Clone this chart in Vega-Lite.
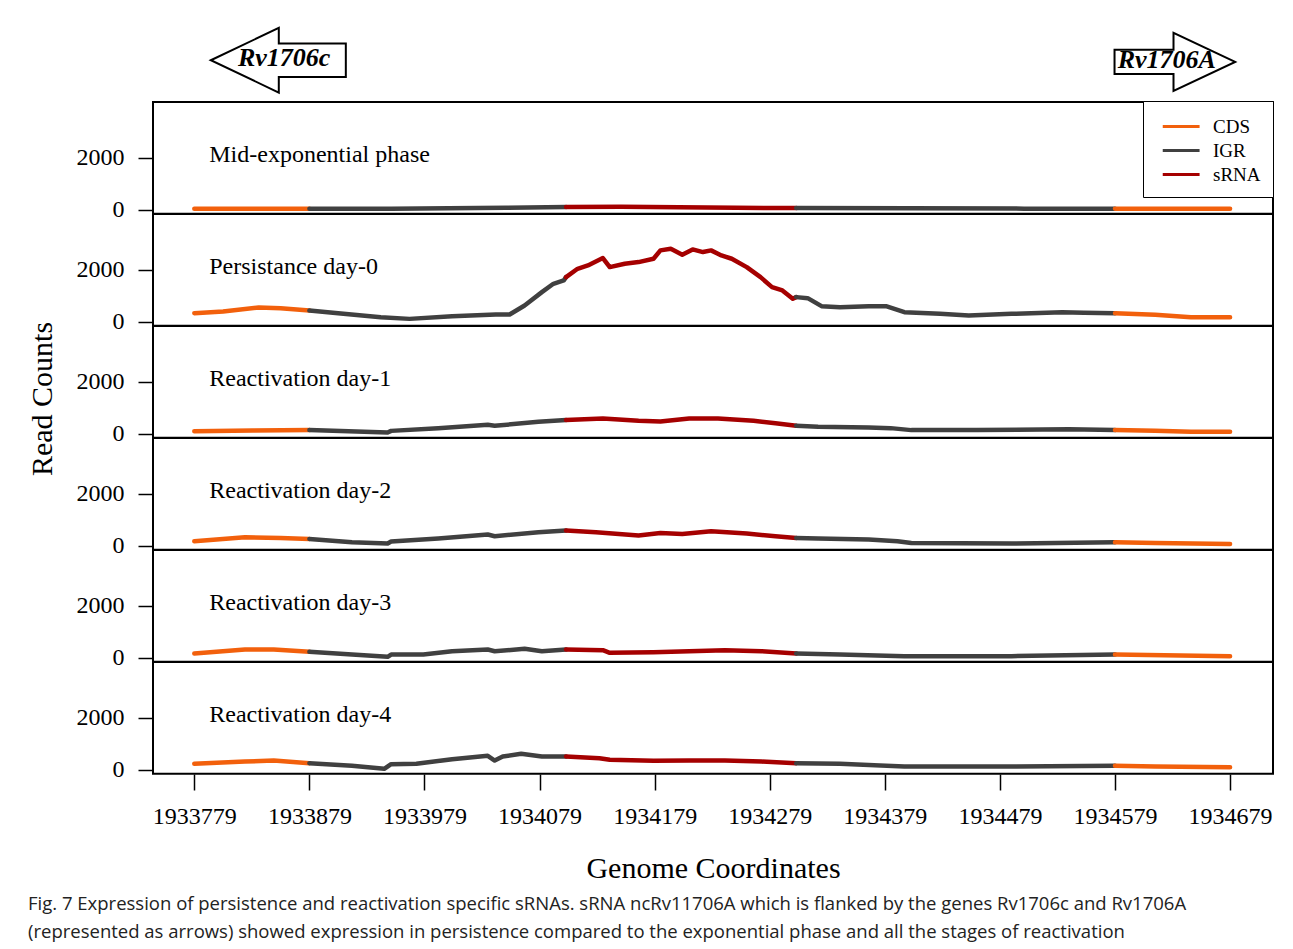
{
  "$schema": "https://vega.github.io/schema/vega-lite/v6.json",
  "background": "white",
  "padding": {"left": 27, "top": 22, "right": 15, "bottom": 10},
  "data": {"values": [
    {"p":"Mid-exponential phase","gene":"Rv1706c","gx":1933852,"gy":5776,"tx":1933857,"ty":5853},
    {"p":"Mid-exponential phase","gene":"Rv1706A","gx":1934631,"gy":5710,"tx":1934624,"ty":5776},

    {"p":"Mid-exponential phase","x":1933779,"y":30,"s":"CDS","g":1},
    {"p":"Mid-exponential phase","x":1933830,"y":30,"s":"CDS","g":1},
    {"p":"Mid-exponential phase","x":1933879,"y":30,"s":"CDS","g":1},
    {"p":"Mid-exponential phase","x":1933879,"y":30,"s":"IGR","g":2},
    {"p":"Mid-exponential phase","x":1933950,"y":35,"s":"IGR","g":2},
    {"p":"Mid-exponential phase","x":1934000,"y":50,"s":"IGR","g":2},
    {"p":"Mid-exponential phase","x":1934050,"y":70,"s":"IGR","g":2},
    {"p":"Mid-exponential phase","x":1934102,"y":100,"s":"IGR","g":2},
    {"p":"Mid-exponential phase","x":1934102,"y":100,"s":"sRNA","g":3},
    {"p":"Mid-exponential phase","x":1934150,"y":110,"s":"sRNA","g":3},
    {"p":"Mid-exponential phase","x":1934200,"y":90,"s":"sRNA","g":3},
    {"p":"Mid-exponential phase","x":1934250,"y":70,"s":"sRNA","g":3},
    {"p":"Mid-exponential phase","x":1934302,"y":55,"s":"sRNA","g":3},
    {"p":"Mid-exponential phase","x":1934302,"y":55,"s":"IGR","g":4},
    {"p":"Mid-exponential phase","x":1934400,"y":45,"s":"IGR","g":4},
    {"p":"Mid-exponential phase","x":1934500,"y":35,"s":"IGR","g":4},
    {"p":"Mid-exponential phase","x":1934579,"y":35,"s":"IGR","g":4},
    {"p":"Mid-exponential phase","x":1934579,"y":35,"s":"CDS","g":5},
    {"p":"Mid-exponential phase","x":1934630,"y":30,"s":"CDS","g":5},
    {"p":"Mid-exponential phase","x":1934679,"y":30,"s":"CDS","g":5},

    {"p":"Persistance day-0","x":1933779,"y":322,"s":"CDS","g":1},
    {"p":"Persistance day-0","x":1933804,"y":388,"s":"CDS","g":1},
    {"p":"Persistance day-0","x":1933835,"y":543,"s":"CDS","g":1},
    {"p":"Persistance day-0","x":1933854,"y":517,"s":"CDS","g":1},
    {"p":"Persistance day-0","x":1933879,"y":426,"s":"CDS","g":1},
    {"p":"Persistance day-0","x":1933879,"y":426,"s":"IGR","g":2},
    {"p":"Persistance day-0","x":1933904,"y":322,"s":"IGR","g":2},
    {"p":"Persistance day-0","x":1933941,"y":168,"s":"IGR","g":2},
    {"p":"Persistance day-0","x":1933966,"y":103,"s":"IGR","g":2},
    {"p":"Persistance day-0","x":1934003,"y":207,"s":"IGR","g":2},
    {"p":"Persistance day-0","x":1934041,"y":271,"s":"IGR","g":2},
    {"p":"Persistance day-0","x":1934053,"y":271,"s":"IGR","g":2},
    {"p":"Persistance day-0","x":1934066,"y":620,"s":"IGR","g":2},
    {"p":"Persistance day-0","x":1934081,"y":1137,"s":"IGR","g":2},
    {"p":"Persistance day-0","x":1934091,"y":1460,"s":"IGR","g":2},
    {"p":"Persistance day-0","x":1934100,"y":1589,"s":"IGR","g":2},
    {"p":"Persistance day-0","x":1934102,"y":1718,"s":"IGR","g":2},
    {"p":"Persistance day-0","x":1934102,"y":1718,"s":"sRNA","g":3},
    {"p":"Persistance day-0","x":1934112,"y":2041,"s":"sRNA","g":3},
    {"p":"Persistance day-0","x":1934121,"y":2171,"s":"sRNA","g":3},
    {"p":"Persistance day-0","x":1934134,"y":2455,"s":"sRNA","g":3},
    {"p":"Persistance day-0","x":1934140,"y":2106,"s":"sRNA","g":3},
    {"p":"Persistance day-0","x":1934153,"y":2235,"s":"sRNA","g":3},
    {"p":"Persistance day-0","x":1934165,"y":2300,"s":"sRNA","g":3},
    {"p":"Persistance day-0","x":1934178,"y":2429,"s":"sRNA","g":3},
    {"p":"Persistance day-0","x":1934184,"y":2752,"s":"sRNA","g":3},
    {"p":"Persistance day-0","x":1934193,"y":2816,"s":"sRNA","g":3},
    {"p":"Persistance day-0","x":1934203,"y":2584,"s":"sRNA","g":3},
    {"p":"Persistance day-0","x":1934212,"y":2790,"s":"sRNA","g":3},
    {"p":"Persistance day-0","x":1934221,"y":2687,"s":"sRNA","g":3},
    {"p":"Persistance day-0","x":1934228,"y":2752,"s":"sRNA","g":3},
    {"p":"Persistance day-0","x":1934237,"y":2558,"s":"sRNA","g":3},
    {"p":"Persistance day-0","x":1934246,"y":2429,"s":"sRNA","g":3},
    {"p":"Persistance day-0","x":1934259,"y":2106,"s":"sRNA","g":3},
    {"p":"Persistance day-0","x":1934271,"y":1718,"s":"sRNA","g":3},
    {"p":"Persistance day-0","x":1934281,"y":1331,"s":"sRNA","g":3},
    {"p":"Persistance day-0","x":1934290,"y":1202,"s":"sRNA","g":3},
    {"p":"Persistance day-0","x":1934299,"y":879,"s":"sRNA","g":3},
    {"p":"Persistance day-0","x":1934302,"y":944,"s":"sRNA","g":3},
    {"p":"Persistance day-0","x":1934302,"y":944,"s":"IGR","g":4},
    {"p":"Persistance day-0","x":1934312,"y":905,"s":"IGR","g":4},
    {"p":"Persistance day-0","x":1934324,"y":594,"s":"IGR","g":4},
    {"p":"Persistance day-0","x":1934340,"y":556,"s":"IGR","g":4},
    {"p":"Persistance day-0","x":1934365,"y":594,"s":"IGR","g":4},
    {"p":"Persistance day-0","x":1934380,"y":594,"s":"IGR","g":4},
    {"p":"Persistance day-0","x":1934396,"y":362,"s":"IGR","g":4},
    {"p":"Persistance day-0","x":1934427,"y":297,"s":"IGR","g":4},
    {"p":"Persistance day-0","x":1934452,"y":233,"s":"IGR","g":4},
    {"p":"Persistance day-0","x":1934489,"y":297,"s":"IGR","g":4},
    {"p":"Persistance day-0","x":1934533,"y":362,"s":"IGR","g":4},
    {"p":"Persistance day-0","x":1934552,"y":336,"s":"IGR","g":4},
    {"p":"Persistance day-0","x":1934579,"y":322,"s":"IGR","g":4},
    {"p":"Persistance day-0","x":1934579,"y":322,"s":"CDS","g":5},
    {"p":"Persistance day-0","x":1934614,"y":258,"s":"CDS","g":5},
    {"p":"Persistance day-0","x":1934645,"y":168,"s":"CDS","g":5},
    {"p":"Persistance day-0","x":1934679,"y":168,"s":"CDS","g":5},

    {"p":"Reactivation day-1","x":1933779,"y":93,"s":"CDS","g":1},
    {"p":"Reactivation day-1","x":1933830,"y":115,"s":"CDS","g":1},
    {"p":"Reactivation day-1","x":1933879,"y":132,"s":"CDS","g":1},
    {"p":"Reactivation day-1","x":1933879,"y":132,"s":"IGR","g":2},
    {"p":"Reactivation day-1","x":1933947,"y":39,"s":"IGR","g":2},
    {"p":"Reactivation day-1","x":1933950,"y":103,"s":"IGR","g":2},
    {"p":"Reactivation day-1","x":1933991,"y":209,"s":"IGR","g":2},
    {"p":"Reactivation day-1","x":1934034,"y":337,"s":"IGR","g":2},
    {"p":"Reactivation day-1","x":1934040,"y":300,"s":"IGR","g":2},
    {"p":"Reactivation day-1","x":1934078,"y":453,"s":"IGR","g":2},
    {"p":"Reactivation day-1","x":1934102,"y":519,"s":"IGR","g":2},
    {"p":"Reactivation day-1","x":1934102,"y":519,"s":"sRNA","g":3},
    {"p":"Reactivation day-1","x":1934134,"y":583,"s":"sRNA","g":3},
    {"p":"Reactivation day-1","x":1934165,"y":493,"s":"sRNA","g":3},
    {"p":"Reactivation day-1","x":1934184,"y":467,"s":"sRNA","g":3},
    {"p":"Reactivation day-1","x":1934209,"y":583,"s":"sRNA","g":3},
    {"p":"Reactivation day-1","x":1934234,"y":583,"s":"sRNA","g":3},
    {"p":"Reactivation day-1","x":1934265,"y":493,"s":"sRNA","g":3},
    {"p":"Reactivation day-1","x":1934284,"y":402,"s":"sRNA","g":3},
    {"p":"Reactivation day-1","x":1934302,"y":300,"s":"sRNA","g":3},
    {"p":"Reactivation day-1","x":1934302,"y":300,"s":"IGR","g":4},
    {"p":"Reactivation day-1","x":1934321,"y":260,"s":"IGR","g":4},
    {"p":"Reactivation day-1","x":1934365,"y":235,"s":"IGR","g":4},
    {"p":"Reactivation day-1","x":1934384,"y":209,"s":"IGR","g":4},
    {"p":"Reactivation day-1","x":1934402,"y":132,"s":"IGR","g":4},
    {"p":"Reactivation day-1","x":1934459,"y":132,"s":"IGR","g":4},
    {"p":"Reactivation day-1","x":1934539,"y":170,"s":"IGR","g":4},
    {"p":"Reactivation day-1","x":1934579,"y":132,"s":"IGR","g":4},
    {"p":"Reactivation day-1","x":1934579,"y":132,"s":"CDS","g":5},
    {"p":"Reactivation day-1","x":1934614,"y":106,"s":"CDS","g":5},
    {"p":"Reactivation day-1","x":1934645,"y":67,"s":"CDS","g":5},
    {"p":"Reactivation day-1","x":1934679,"y":67,"s":"CDS","g":5},

    {"p":"Reactivation day-2","x":1933779,"y":167,"s":"CDS","g":1},
    {"p":"Reactivation day-2","x":1933823,"y":322,"s":"CDS","g":1},
    {"p":"Reactivation day-2","x":1933854,"y":296,"s":"CDS","g":1},
    {"p":"Reactivation day-2","x":1933879,"y":257,"s":"CDS","g":1},
    {"p":"Reactivation day-2","x":1933879,"y":257,"s":"IGR","g":2},
    {"p":"Reactivation day-2","x":1933916,"y":128,"s":"IGR","g":2},
    {"p":"Reactivation day-2","x":1933947,"y":77,"s":"IGR","g":2},
    {"p":"Reactivation day-2","x":1933950,"y":154,"s":"IGR","g":2},
    {"p":"Reactivation day-2","x":1933991,"y":270,"s":"IGR","g":2},
    {"p":"Reactivation day-2","x":1934034,"y":425,"s":"IGR","g":2},
    {"p":"Reactivation day-2","x":1934040,"y":360,"s":"IGR","g":2},
    {"p":"Reactivation day-2","x":1934078,"y":515,"s":"IGR","g":2},
    {"p":"Reactivation day-2","x":1934102,"y":580,"s":"IGR","g":2},
    {"p":"Reactivation day-2","x":1934102,"y":580,"s":"sRNA","g":3},
    {"p":"Reactivation day-2","x":1934128,"y":515,"s":"sRNA","g":3},
    {"p":"Reactivation day-2","x":1934165,"y":386,"s":"sRNA","g":3},
    {"p":"Reactivation day-2","x":1934184,"y":489,"s":"sRNA","g":3},
    {"p":"Reactivation day-2","x":1934203,"y":450,"s":"sRNA","g":3},
    {"p":"Reactivation day-2","x":1934228,"y":554,"s":"sRNA","g":3},
    {"p":"Reactivation day-2","x":1934259,"y":463,"s":"sRNA","g":3},
    {"p":"Reactivation day-2","x":1934284,"y":360,"s":"sRNA","g":3},
    {"p":"Reactivation day-2","x":1934302,"y":296,"s":"sRNA","g":3},
    {"p":"Reactivation day-2","x":1934302,"y":296,"s":"IGR","g":4},
    {"p":"Reactivation day-2","x":1934321,"y":270,"s":"IGR","g":4},
    {"p":"Reactivation day-2","x":1934365,"y":231,"s":"IGR","g":4},
    {"p":"Reactivation day-2","x":1934390,"y":167,"s":"IGR","g":4},
    {"p":"Reactivation day-2","x":1934402,"y":102,"s":"IGR","g":4},
    {"p":"Reactivation day-2","x":1934489,"y":77,"s":"IGR","g":4},
    {"p":"Reactivation day-2","x":1934579,"y":128,"s":"IGR","g":4},
    {"p":"Reactivation day-2","x":1934579,"y":128,"s":"CDS","g":5},
    {"p":"Reactivation day-2","x":1934614,"y":102,"s":"CDS","g":5},
    {"p":"Reactivation day-2","x":1934679,"y":64,"s":"CDS","g":5},

    {"p":"Reactivation day-3","x":1933779,"y":155,"s":"CDS","g":1},
    {"p":"Reactivation day-3","x":1933823,"y":310,"s":"CDS","g":1},
    {"p":"Reactivation day-3","x":1933848,"y":310,"s":"CDS","g":1},
    {"p":"Reactivation day-3","x":1933879,"y":220,"s":"CDS","g":1},
    {"p":"Reactivation day-3","x":1933879,"y":220,"s":"IGR","g":2},
    {"p":"Reactivation day-3","x":1933916,"y":116,"s":"IGR","g":2},
    {"p":"Reactivation day-3","x":1933947,"y":26,"s":"IGR","g":2},
    {"p":"Reactivation day-3","x":1933950,"y":116,"s":"IGR","g":2},
    {"p":"Reactivation day-3","x":1933978,"y":116,"s":"IGR","g":2},
    {"p":"Reactivation day-3","x":1934003,"y":245,"s":"IGR","g":2},
    {"p":"Reactivation day-3","x":1934034,"y":310,"s":"IGR","g":2},
    {"p":"Reactivation day-3","x":1934040,"y":245,"s":"IGR","g":2},
    {"p":"Reactivation day-3","x":1934066,"y":336,"s":"IGR","g":2},
    {"p":"Reactivation day-3","x":1934081,"y":245,"s":"IGR","g":2},
    {"p":"Reactivation day-3","x":1934102,"y":310,"s":"IGR","g":2},
    {"p":"Reactivation day-3","x":1934102,"y":310,"s":"sRNA","g":3},
    {"p":"Reactivation day-3","x":1934134,"y":284,"s":"sRNA","g":3},
    {"p":"Reactivation day-3","x":1934140,"y":181,"s":"sRNA","g":3},
    {"p":"Reactivation day-3","x":1934178,"y":207,"s":"sRNA","g":3},
    {"p":"Reactivation day-3","x":1934209,"y":245,"s":"sRNA","g":3},
    {"p":"Reactivation day-3","x":1934240,"y":284,"s":"sRNA","g":3},
    {"p":"Reactivation day-3","x":1934272,"y":245,"s":"sRNA","g":3},
    {"p":"Reactivation day-3","x":1934302,"y":155,"s":"sRNA","g":3},
    {"p":"Reactivation day-3","x":1934302,"y":155,"s":"IGR","g":4},
    {"p":"Reactivation day-3","x":1934340,"y":116,"s":"IGR","g":4},
    {"p":"Reactivation day-3","x":1934396,"y":52,"s":"IGR","g":4},
    {"p":"Reactivation day-3","x":1934489,"y":52,"s":"IGR","g":4},
    {"p":"Reactivation day-3","x":1934579,"y":116,"s":"IGR","g":4},
    {"p":"Reactivation day-3","x":1934579,"y":116,"s":"CDS","g":5},
    {"p":"Reactivation day-3","x":1934679,"y":52,"s":"CDS","g":5},

    {"p":"Reactivation day-4","x":1933779,"y":221,"s":"CDS","g":1},
    {"p":"Reactivation day-4","x":1933823,"y":310,"s":"CDS","g":1},
    {"p":"Reactivation day-4","x":1933848,"y":349,"s":"CDS","g":1},
    {"p":"Reactivation day-4","x":1933879,"y":245,"s":"CDS","g":1},
    {"p":"Reactivation day-4","x":1933879,"y":245,"s":"IGR","g":2},
    {"p":"Reactivation day-4","x":1933916,"y":142,"s":"IGR","g":2},
    {"p":"Reactivation day-4","x":1933944,"y":26,"s":"IGR","g":2},
    {"p":"Reactivation day-4","x":1933950,"y":207,"s":"IGR","g":2},
    {"p":"Reactivation day-4","x":1933972,"y":220,"s":"IGR","g":2},
    {"p":"Reactivation day-4","x":1934003,"y":401,"s":"IGR","g":2},
    {"p":"Reactivation day-4","x":1934034,"y":530,"s":"IGR","g":2},
    {"p":"Reactivation day-4","x":1934040,"y":349,"s":"IGR","g":2},
    {"p":"Reactivation day-4","x":1934047,"y":504,"s":"IGR","g":2},
    {"p":"Reactivation day-4","x":1934063,"y":608,"s":"IGR","g":2},
    {"p":"Reactivation day-4","x":1934081,"y":504,"s":"IGR","g":2},
    {"p":"Reactivation day-4","x":1934102,"y":504,"s":"IGR","g":2},
    {"p":"Reactivation day-4","x":1934102,"y":504,"s":"sRNA","g":3},
    {"p":"Reactivation day-4","x":1934131,"y":440,"s":"sRNA","g":3},
    {"p":"Reactivation day-4","x":1934140,"y":375,"s":"sRNA","g":3},
    {"p":"Reactivation day-4","x":1934178,"y":337,"s":"sRNA","g":3},
    {"p":"Reactivation day-4","x":1934209,"y":349,"s":"sRNA","g":3},
    {"p":"Reactivation day-4","x":1934240,"y":349,"s":"sRNA","g":3},
    {"p":"Reactivation day-4","x":1934272,"y":310,"s":"sRNA","g":3},
    {"p":"Reactivation day-4","x":1934302,"y":245,"s":"sRNA","g":3},
    {"p":"Reactivation day-4","x":1934302,"y":245,"s":"IGR","g":4},
    {"p":"Reactivation day-4","x":1934340,"y":220,"s":"IGR","g":4},
    {"p":"Reactivation day-4","x":1934396,"y":116,"s":"IGR","g":4},
    {"p":"Reactivation day-4","x":1934489,"y":116,"s":"IGR","g":4},
    {"p":"Reactivation day-4","x":1934579,"y":142,"s":"IGR","g":4},
    {"p":"Reactivation day-4","x":1934579,"y":142,"s":"CDS","g":5},
    {"p":"Reactivation day-4","x":1934614,"y":116,"s":"CDS","g":5},
    {"p":"Reactivation day-4","x":1934679,"y":91,"s":"CDS","g":5}
  ]},
  "facet": {
    "row": {
      "field": "p", "type": "nominal",
      "sort": ["Mid-exponential phase","Persistance day-0","Reactivation day-1","Reactivation day-2","Reactivation day-3","Reactivation day-4"],
      "header": {"labels": false, "title": "Read Counts", "titleFont": "Liberation Serif", "titleFontSize": 30, "titleFontWeight": "normal", "titleColor": "black", "titlePadding": 8}
    }
  },
  "spacing": {"row": 0},
  "bounds": "flush",
  "spec": {
    "width": 1120,
    "height": 111.67,
    "layer": [
      {
        "transform": [{"filter": "datum.s != null"}],
        "mark": {"type": "line", "strokeWidth": 4.5, "strokeJoin": "round", "strokeCap": "round"},
        "encoding": {
          "x": {"field": "x", "type": "quantitative",
                "scale": {"domain": [1933743.1, 1934716.3], "nice": false, "zero": false},
                "axis": {"values": [1933779,1933879,1933979,1934079,1934179,1934279,1934379,1934479,1934579,1934679],
                         "format": "d", "title": "Genome Coordinates", "titleFont": "Liberation Serif", "titleFontSize": 30,
                         "titleFontWeight": "normal", "titleColor": "black", "titlePadding": 25,
                         "labelFont": "Liberation Serif", "labelFontSize": 24, "labelColor": "black", "labelPadding": 14,
                         "tickSize": 16, "tickColor": "black", "tickWidth": 1.5, "domain": false, "grid": false,
                         "labelOverlap": false, "labelFlush": false, "labelBound": false}},
          "y": {"field": "y", "type": "quantitative",
                "scale": {"domain": [-160, 4160], "nice": false, "zero": false},
                "axis": {"values": [0, 2000], "format": "d", "title": null, "labelFont": "Liberation Serif", "labelFontSize": 24,
                         "labelColor": "black", "labelPadding": 14, "tickSize": 15, "tickColor": "black", "tickWidth": 1.5,
                         "domain": false, "grid": false, "labelBaseline": "middle"}},
          "color": {"field": "s", "type": "nominal", "title": null,
                    "scale": {"domain": ["CDS", "IGR", "sRNA"], "range": ["#f2600c", "#404040", "#a50000"]},
                    "legend": {"orient": "none", "legendX": 990, "legendY": -1, "symbolType": "M-0.5,0L2.7,0", "symbolSize": 530,
                               "symbolStrokeWidth": 3, "labelFont": "Liberation Serif", "labelFontSize": 19, "labelColor": "black",
                               "strokeColor": "black", "fillColor": "white", "padding": 12, "rowPadding": 0, "labelOffset": 31}},
          "detail": {"field": "g", "type": "nominal"}
        }
      },
      {
        "transform": [{"filter": "datum.x == 1933779 && datum.s == 'CDS'"}],
        "mark": {"type": "text", "align": "left", "baseline": "middle", "font": "Liberation Serif", "fontSize": 24, "color": "black"},
        "encoding": {
          "x": {"datum": 1933792},
          "y": {"datum": 2100},
          "text": {"field": "p"}
        }
      },
      {
        "transform": [{"filter": "datum.gene == 'Rv1706c'"}],
        "mark": {"type": "point", "shape": "M-1,0L0.007,-0.479L0.007,-0.247L1,-0.247L1,0.247L0.007,0.247L0.007,0.479Z",
                 "size": 18225, "filled": true, "fill": "white", "stroke": "black", "strokeWidth": 2, "opacity": 1},
        "encoding": {"x": {"field": "gx", "type": "quantitative"}, "y": {"field": "gy", "type": "quantitative"}}
      },
      {
        "transform": [{"filter": "datum.gene == 'Rv1706A'"}],
        "mark": {"type": "point", "shape": "M1,0L-0.022,-0.481L-0.022,-0.202L-1,-0.202L-1,0.202L-0.022,0.202L-0.022,0.481Z",
                 "size": 14544, "filled": true, "fill": "white", "stroke": "black", "strokeWidth": 2, "opacity": 1},
        "encoding": {"x": {"field": "gx", "type": "quantitative"}, "y": {"field": "gy", "type": "quantitative"}}
      },
      {
        "transform": [{"filter": "datum.gene != null"}],
        "mark": {"type": "text", "align": "center", "baseline": "middle", "font": "Liberation Serif", "fontSize": 26,
                 "fontStyle": "italic", "fontWeight": "bold", "color": "black"},
        "encoding": {"x": {"field": "tx", "type": "quantitative"}, "y": {"field": "ty", "type": "quantitative"}, "text": {"field": "gene"}}
      }
    ]
  },
  "title": {
    "text": ["Fig. 7 Expression of persistence and reactivation specific sRNAs. sRNA ncRv11706A which is flanked by the genes Rv1706c and Rv1706A",
             "(represented as arrows) showed expression in persistence compared to the exponential phase and all the stages of reactivation"],
    "orient": "bottom", "anchor": "start", "frame": "bounds", "font": "Open Sans", "fontSize": 18.5, "fontWeight": "normal",
    "color": "#222222", "lineHeight": 28, "offset": 12
  },
  "config": {
    "view": {"stroke": "black", "strokeWidth": 2},
    "font": "Liberation Serif"
  }
}
